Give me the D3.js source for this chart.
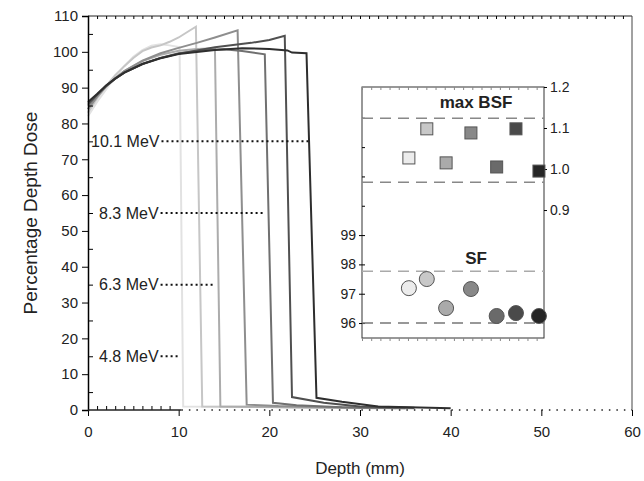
<!DOCTYPE html>
<html>
<head>
<meta charset="utf-8">
<script src="https://cdn.jsdelivr.net/npm/d3@7"></script>
<style>
  body { margin: 0; background: #fff; }
  svg text { font-family: "Liberation Sans", Arial, sans-serif; fill: #222; }
</style>
</head>
<body>
<div id="chart"></div>
<script>
// depth dose curves, lightest to darkest
var curveColors = ["#e2e2e2", "#c6c6c6", "#acacac", "#8e8e8e", "#707070", "#505050", "#2e2e2e"];
var curves = [
    [[0,82],[1,86],[2,89.5],[3,93],[4,96],[5,98.6],[6,100.5],[7,101.7],[8,102.1],[9,101.8],[10.1,101.3],[10.5,1],[20,0.8],[30,0.5]],
    [[0,83],[1,87],[2,90.5],[3,93.5],[4,96],[5,98.3],[6,100.2],[7,101.2],[8,101.8],[9,102.8],[10,104],[11,105.6],[11.9,107],[12.6,1],[22,0.8],[32,0.5]],
    [[0,84],[1,87.5],[2,90.3],[3,92.6],[4,94.6],[6,97.4],[8,99.2],[10,100.3],[12,100.8],[14,101],[14.6,1],[25,0.7],[34,0.5]],
    [[0,84],[1,87.5],[2,90.3],[3,92.6],[4,94.6],[6,97.5],[8,99.6],[10,101.1],[12,102.5],[14,104],[16.5,106],[17.5,1.5],[21,1.1],[30,0.6],[36,0.5]],
    [[0,85],[1,88],[2,90.5],[3,92.5],[4,94.2],[6,96.6],[8,98.3],[10,99.6],[13,100.5],[15,100.7],[17,100.2],[19.5,99.3],[20.4,2],[23,1.3],[28,0.8],[35,0.5]],
    [[0,85.5],[1,88],[2,90.5],[3,92.5],[4,94.2],[6,96.6],[8,98.3],[10,99.5],[14,101.3],[18,102.5],[20,103.3],[21.7,104.5],[22.5,3.6],[26,2],[30,1],[36,0.6]],
    [[0,86],[1,88.2],[2,90.6],[3,92.5],[4,94.2],[6,96.6],[8,98.2],[10,99.4],[14,100.5],[17,101],[20,100.8],[22,100.4],[22.5,99.8],[24.1,99.6],[25.2,3.4],[28,2.3],[32,1],[40,0.5]]
];

// energy labels with their dotted leaders
var energyLabels = ["4.8 MeV", "6.3 MeV", "8.3 MeV", "10.1 MeV"];
var energyLevel = [15, 35, 55, 75];
var energyDotEnd = [10, 13.8, 19.5, 24.3];

// inset data
var insetX = [1.02, 1.41, 1.83, 2.37, 2.93, 3.35, 3.85];
var bsf = [1.027, 1.098, 1.015, 1.088, 1.005, 1.098, 0.995];
var sf = [97.19, 97.5, 96.51, 97.16, 96.24, 96.34, 96.24];
var bsfBand = [1.124, 0.968];
var sfBand = [97.77, 96.0];
var markerColors = ["#ececec", "#c8c8c8", "#aaaaaa", "#888888", "#6a6a6a", "#4a4a4a", "#262626"];
var sfTicks = [96, 97, 98, 99];
var bsfTicks = [0.9, 1.0, 1.1, 1.2];

var width = 644, height = 481;
var svg = d3.select("#chart").append("svg").attr("width", width).attr("height", height);

var x = d3.scaleLinear().domain([0, 60]).range([88, 632]);
var y = d3.scaleLinear().domain([0, 110]).range([410, 16]);

// frame: top and right
svg.append("line").attr("x1", x(0)).attr("x2", x(60)).attr("y1", y(110)).attr("y2", y(110)).attr("stroke", "#222");
svg.append("line").attr("x1", x(60)).attr("x2", x(60)).attr("y1", y(110)).attr("y2", y(0)).attr("stroke", "#444");

var topAxis = svg.append("g").attr("transform", "translate(0," + y(110) + ")")
    .call(d3.axisBottom(x).tickValues(d3.range(1, 60)).tickSize(3).tickFormat(""));
topAxis.select(".domain").remove();

// curves
var line = d3.line().x(function (d) { return x(d[0]); }).y(function (d) { return y(d[1]); });
svg.selectAll("path.curve")
    .data(curves)
    .enter()
    .append("path")
    .attr("class", "curve")
    .attr("d", line)
    .attr("fill", "none")
    .attr("stroke-width", 2)
    .attr("stroke", function (d, i) { return curveColors[i]; });

// left axis
var left = svg.append("g").attr("transform", "translate(" + x(0) + ",0)")
    .call(d3.axisLeft(y).tickValues(d3.range(0, 111, 10)).tickSize(6).tickPadding(4));
left.selectAll("text").style("font-size", "15px");
left.select(".domain").attr("stroke-width", 1.5);
svg.append("g").attr("transform", "translate(" + x(0) + ",0)")
    .call(d3.axisRight(y).tickValues(d3.range(5, 110, 10)).tickSize(5).tickFormat(""))
    .select(".domain").remove();

// bottom axis
var bottom = svg.append("g").attr("transform", "translate(0," + y(0) + ")")
    .call(d3.axisBottom(x).tickValues(d3.range(0, 61, 10)).tickSize(6).tickPadding(10));
bottom.select(".domain").remove();
bottom.selectAll("text").style("font-size", "15px");
svg.append("g").attr("transform", "translate(0," + y(0) + ")")
    .call(d3.axisTop(x).tickValues(d3.range(1, 10)).tickSize(4).tickFormat(""))
    .select(".domain").remove();
svg.append("line").attr("x1", x(0)).attr("x2", x(10.3)).attr("y1", y(0)).attr("y2", y(0))
    .attr("stroke", "#222").attr("stroke-width", 1.5);
svg.append("line").attr("x1", x(10.3)).attr("x2", x(60)).attr("y1", y(0)).attr("y2", y(0))
    .attr("stroke", "#222").attr("stroke-width", 1.5).attr("stroke-dasharray", "1.5,6");

// energy labels
energyLabels.forEach(function (t, i) {
    var tx = svg.append("text")
        .attr("x", i === 3 ? x(0) + 3 : x(0) + 11)
        .attr("y", y(energyLevel[i]))
        .attr("dy", "0.35em")
        .style("font-size", "16px")
        .text(t);
    var w = tx.node().getComputedTextLength();
    svg.append("line")
        .attr("x1", +tx.attr("x") + w + 2).attr("x2", x(energyDotEnd[i]))
        .attr("y1", y(energyLevel[i])).attr("y2", y(energyLevel[i]))
        .attr("stroke", "#111").attr("stroke-width", 2)
        .attr("stroke-dasharray", "2,3");
});

// axis titles
svg.append("text").attr("x", x(30)).attr("y", 474).attr("text-anchor", "middle")
    .style("font-size", "17px").text("Depth (mm)");
svg.append("text").attr("transform", "translate(30," + y(55) + ") rotate(-90)")
    .attr("text-anchor", "middle").attr("dy", "0.35em")
    .style("font-size", "19px").text("Percentage Depth Dose");

// ---- inset ----
var ix = d3.scaleLinear().domain([0, 3.96]).range([362, 544]);
var iyL = d3.scaleLinear().domain([95.49, 104.05]).range([338, 87]);
var iyR = d3.scaleLinear().domain([0.588, 1.2]).range([338, 87]);

var inset = svg.append("g");
inset.append("rect").attr("x", ix(0)).attr("y", 87).attr("width", ix(3.96) - ix(0)).attr("height", 251)
    .attr("fill", "#fff").attr("stroke", "#333");

var ib = inset.append("g").attr("transform", "translate(0,338)")
    .call(d3.axisBottom(ix).tickValues(d3.range(0, 3.96, 0.2)).tickSize(3).tickFormat(""));
ib.select(".domain").remove();
ib.selectAll(".tick line").attr("stroke", "#888");
var it = inset.append("g").attr("transform", "translate(0,87)")
    .call(d3.axisBottom(ix).tickValues(d3.range(0, 3.96, 0.2)).tickSize(3).tickFormat(""));
it.select(".domain").remove();
it.selectAll(".tick line").attr("stroke", "#888");

var il = inset.append("g").attr("transform", "translate(" + ix(0) + ",0)")
    .call(d3.axisLeft(iyL).tickValues(sfTicks).tickSize(3).tickPadding(3));
il.select(".domain").remove();
il.selectAll("text").style("font-size", "14px");
inset.append("g").attr("transform", "translate(" + ix(0) + ",0)")
    .call(d3.axisRight(iyL).tickValues(d3.range(96, 104, 1)).tickSize(3).tickFormat(""))
    .select(".domain").remove();

var ir = inset.append("g").attr("transform", "translate(" + ix(3.96) + ",0)")
    .call(d3.axisRight(iyR).tickValues(bsfTicks).tickSize(3).tickPadding(3).tickFormat(d3.format(".1f")));
ir.select(".domain").remove();
ir.selectAll("text").style("font-size", "14px");

// reference bands
inset.selectAll("line.bsfband").data(bsfBand).enter().append("line")
    .attr("x1", ix(0)).attr("x2", ix(3.96))
    .attr("y1", function (d) { return iyR(d); }).attr("y2", function (d) { return iyR(d); })
    .attr("stroke", "#888").attr("stroke-width", 1.5).attr("stroke-dasharray", "11,7");
inset.selectAll("line.sfband").data(sfBand).enter().append("line")
    .attr("x1", ix(0)).attr("x2", ix(3.96))
    .attr("y1", function (d) { return iyL(d); }).attr("y2", function (d) { return iyL(d); })
    .attr("stroke", function (d, i) { return i === 0 ? "#aaa" : "#777"; })
    .attr("stroke-width", 1.5).attr("stroke-dasharray", "11,7");

inset.selectAll("rect.bsf").data(bsf).enter().append("rect")
    .attr("x", function (d, i) { return ix(insetX[i]) - 6; })
    .attr("y", function (d) { return iyR(d) - 6; })
    .attr("width", 12).attr("height", 12)
    .attr("fill", function (d, i) { return markerColors[i]; })
    .attr("stroke", "#555").attr("stroke-width", 1);

inset.selectAll("circle.sf").data(sf).enter().append("circle")
    .attr("cx", function (d, i) { return ix(insetX[i]); })
    .attr("cy", function (d) { return iyL(d); })
    .attr("r", 7.5)
    .attr("fill", function (d, i) { return markerColors[i]; })
    .attr("stroke", "#555").attr("stroke-width", 1);

inset.append("text").attr("x", 476).attr("y", 108).attr("text-anchor", "middle")
    .style("font-size", "17px").style("font-weight", "bold").text("max BSF");
inset.append("text").attr("x", 476).attr("y", 264).attr("text-anchor", "middle")
    .style("font-size", "17px").style("font-weight", "bold").text("SF");
</script>
</body>
</html>
